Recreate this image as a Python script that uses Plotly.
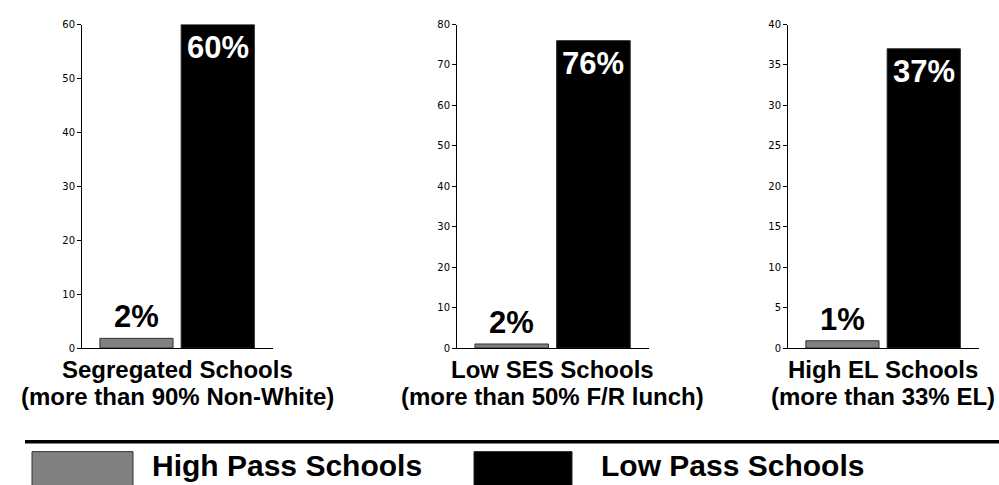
import plotly.graph_objects as go

# ---- data ----
categories = ["Segregated Schools", "Low SES Schools", "High EL Schools"]
subtitles = ["(more than 90% Non-White)", "(more than 50% F/R lunch)", "(more than 33% EL)"]
high_pass = [1.8, 1.0, 0.9]
low_pass = [60, 76, 37]
high_labels = ["2%", "2%", "1%"]
low_labels = ["60%", "76%", "37%"]
y_max = [60, 80, 40]
y_dtick = [10, 10, 5]
series_names = ["High Pass Schools", "Low Pass Schools"]

# ---- style ----
W, H = 999, 485
GRAY = "#808080"
BLACK = "#000000"
BOLD = "Liberation Sans, Arial, sans-serif"
x_domains_px = [(82, 273), (457, 649), (788, 979)]
y_top_px, y_zero_px = 20, 351
x_range = [-0.67, 1.68]

fig = go.Figure()
annotations = []

for i in range(3):
    n = "" if i == 0 else str(i + 1)
    xa, ya = "x" + n, "y" + n
    fig.add_trace(go.Bar(x=[0], y=[high_pass[i]], width=0.9, name=series_names[0],
                         marker=dict(color=GRAY, line=dict(color="#333333", width=1)),
                         xaxis=xa, yaxis=ya, showlegend=False))
    fig.add_trace(go.Bar(x=[1], y=[low_pass[i]], width=0.9, name=series_names[1],
                         marker=dict(color=BLACK, line=dict(color="#222222", width=1)),
                         xaxis=xa, yaxis=ya, showlegend=False))
    x0, x1 = x_domains_px[i]
    fig.update_layout(**{
        "xaxis" + n: dict(domain=[x0 / W, x1 / W], range=x_range, showline=True,
                          linecolor="black", linewidth=1, showgrid=False, zeroline=False,
                          tickmode="array", tickvals=[x_range[1]], ticktext=[""],
                          ticks="inside", ticklen=4, tickcolor="black",
                          showticklabels=False, fixedrange=True, anchor=ya),
        "yaxis" + n: dict(domain=[1 - y_zero_px / H, 1 - y_top_px / H], range=[0, y_max[i]],
                          dtick=y_dtick[i], showline=True, linecolor="black", linewidth=1,
                          showgrid=False, zeroline=False, ticks="outside", ticklen=4,
                          tickcolor="black", tickfont=dict(family="DejaVu Sans", size=10, color="black"),
                          fixedrange=True, anchor=xa),
    })
    # value labels
    annotations.append(dict(x=0, y=high_pass[i], xref=xa, yref=ya, text=high_labels[i],
                            showarrow=False, yanchor="bottom", xanchor="center", yshift=2,
                            font=dict(family=BOLD, size=31, color="black", weight="bold")))
    annotations.append(dict(x=1, y=low_pass[i], xref=xa, yref=ya, text=low_labels[i],
                            showarrow=False, yanchor="top", xanchor="center", yshift=-3,
                            font=dict(family=BOLD, size=31, color="white", weight="bold")))
    # category labels (two tightly stacked lines)
    annotations.append(dict(x=0.5, y=0, xref=xa, yref=ya + " domain", text=categories[i],
                            showarrow=False, yanchor="top", xanchor="center", yshift=-7,
                            borderpad=0,
                            font=dict(family=BOLD, size=24, color="black", weight="bold")))
    annotations.append(dict(x=0.5, y=0, xref=xa, yref=ya + " domain", text=subtitles[i],
                            showarrow=False, yanchor="top", xanchor="center", yshift=-34,
                            borderpad=0,
                            font=dict(family=BOLD, size=24, color="black", weight="bold")))

# ---- custom legend ----
shapes = [dict(type="line", xref="paper", yref="paper", x0=25 / W, x1=1.0,
               y0=1 - 447 / H, y1=1 - 447 / H, line=dict(color="black", width=3.5))]
legend_boxes = [(32, 133, GRAY, "#333333"), (474, 572, BLACK, "#222222")]
legend_text_x = [150, 599]
for (bx0, bx1, fc, lc), tx, name in zip(legend_boxes, legend_text_x, series_names):
    shapes.append(dict(type="rect", xref="paper", yref="paper", x0=bx0 / W, x1=bx1 / W,
                       y0=1 - 457 / H, y1=-0.05, fillcolor=fc, line=dict(color=lc, width=1)))
    annotations.append(dict(x=tx / W, y=1 - 452 / H, xref="paper", yref="paper", text=name,
                            showarrow=False, xanchor="left", yanchor="top",
                            font=dict(family=BOLD, size=30, color="black", weight="bold")))

fig.update_layout(width=W, height=H, margin=dict(l=0, r=0, t=0, b=0),
                  paper_bgcolor="white", plot_bgcolor="white", showlegend=False,
                  barmode="overlay", annotations=annotations, shapes=shapes)

fig.write_html("out.html", config={"displayModeBar": False},
               post_script="document.body.style.margin='0px';document.body.style.overflow='hidden';")
